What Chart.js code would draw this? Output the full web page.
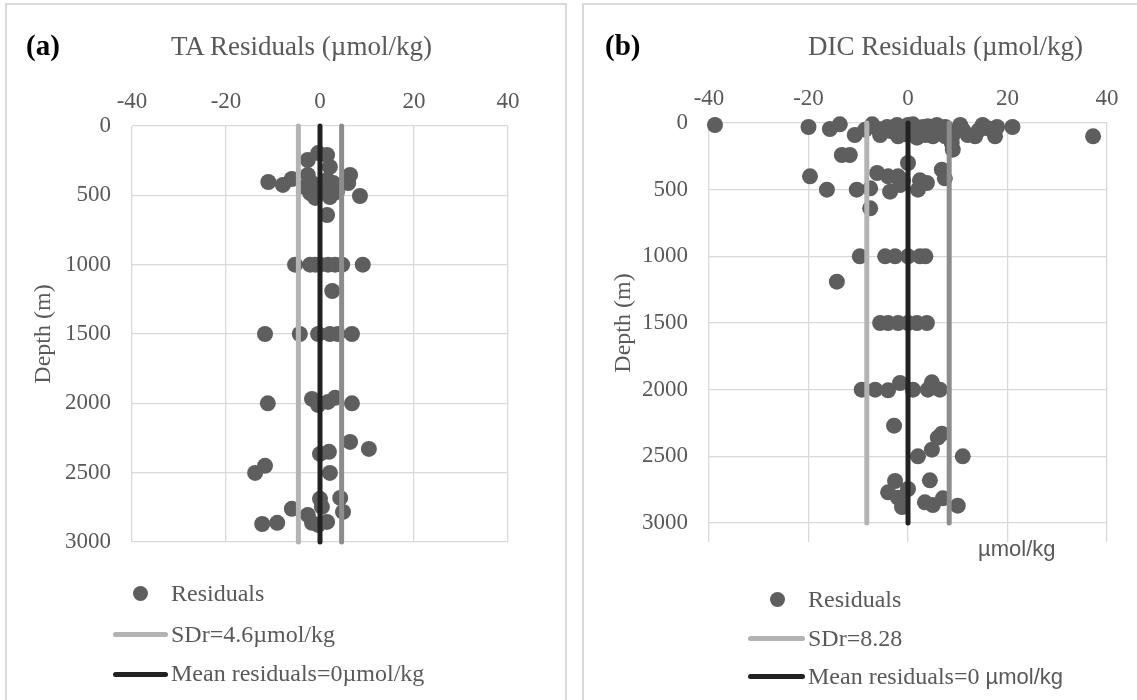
<!DOCTYPE html>
<html>
<head>
<meta charset="utf-8">
<script src="https://cdn.jsdelivr.net/npm/chart.js@4.4.1/dist/chart.umd.min.js"></script>
<style>
body{margin:0;background:#fff;width:1137px;height:700px;overflow:hidden;position:relative;font-family:"Liberation Serif",serif;color:#595959}
.frame{position:absolute;top:3px;height:720px;border:2px solid #d9d9d9;box-sizing:border-box}
canvas{position:absolute;top:0}
.t{position:absolute;white-space:nowrap;line-height:30px;font-size:24px}
.ttl{font-size:27px}
.lab{font-weight:bold;color:#000;font-size:29px}
.dot{position:absolute;width:15px;height:15px;border-radius:50%;background:#5e5e5e}
.ln{position:absolute;height:5px;border-radius:3px}
.sans{font-family:"Liberation Sans",sans-serif;font-size:22px}
</style>
</head>
<body>
<div class="frame" style="left:5px;width:562px"></div>
<div class="frame" style="left:582px;width:560px"></div>
<canvas id="ta" width="570" height="700" style="left:0"></canvas>
<canvas id="dic" width="567" height="700" style="left:570px"></canvas>

<div class="t lab" style="left:26px;top:30px">(a)</div>
<div class="t ttl" style="left:171px;top:31px">TA Residuals (µmol/kg)</div>
<div class="t lab" style="left:605px;top:30px">(b)</div>
<div class="t ttl" style="left:808px;top:31px">DIC Residuals (µmol/kg)</div>
<div class="t sans" style="left:978px;top:534px">µmol/kg</div>

<div class="dot" style="left:133px;top:586px"></div>
<div class="t" style="left:171px;top:578px">Residuals</div>
<div class="ln" style="left:113px;top:632px;width:55px;background:#b3b3b3"></div>
<div class="t" style="left:171px;top:619px">SDr=4.6µmol/kg</div>
<div class="ln" style="left:113px;top:672px;width:55px;background:#222"></div>
<div class="t" style="left:171px;top:658px">Mean residuals=0µmol/kg</div>

<div class="dot" style="left:770px;top:592px"></div>
<div class="t" style="left:808px;top:584px">Residuals</div>
<div class="ln" style="left:748px;top:636px;width:57px;background:#b3b3b3"></div>
<div class="t" style="left:808px;top:623px">SDr=8.28</div>
<div class="ln" style="left:748px;top:674px;width:57px;background:#222"></div>
<div class="t" style="left:808px;top:661px">Mean residuals=0 <span class="sans">µmol/kg</span></div>

<script>
// axis ticks
const xTicks = [-40, -20, 0, 20, 40];
const yTicks = [0, 500, 1000, 1500, 2000, 2500, 3000];

// (a) TA residuals vs depth
const taResid = [-0.4,-2.6,1.5,2.1,-11,-7.9,-6,-2.6,-1.7,-2.1,1.5,2.8,2.1,6.4,6,8.5,1.5,-1,-3.2,0.4,3.6,
  -5.3,-2.1,-1,0,1.7,3.2,4.7,9.1,
  2.6,
  -11.7,-4.3,-0.4,2.1,3.8,6.8,
  -11.1,-1.7,-0.4,1.7,3.2,6.8,
  6.4,10.4,0,1.9,-11.7,-13.8,2.1,
  0,4.3,0.4,-6,4.9,-2.6,-1.7,1.5,-12.3,-9.1,-0.4];
const taDepth = [195,245,209,295,404,425,382,353,411,483,389,411,512,353,411,505,642,519,440,461,476,
  1000,1000,1000,1000,1000,1000,1000,1000,
  1190,
  1500,1500,1500,1500,1500,1500,
  2000,1968,2012,1990,1960,2000,
  2278,2329,2365,2350,2451,2502,2502,
  2689,2682,2747,2761,2783,2805,2862,2855,2870,2862,2877];
const taSD = 4.6;
const taMean = 0;

// (b) DIC residuals vs depth
const dicResid = [-38.8,-20,-15.7,-13.7,-10.7,-7.2,-5.6,-4.2,-2,-2.2,0,1.8,3,5,5.8,9,8.9,10.5,12,13.5,15,17.5,17.9,21,37.2,
  -6,-3.5,-1,1,2.2,4,6.5,7.5,3.5,-0.5,7.5,11,14.2,16,8.8,-8.6,
  -13.3,-11.7,0,-19.7,-6.2,-4,-2,6.8,7.4,2.4,3.8,-1,-16.3,-10.3,-7.6,-3.6,-1.6,2,-7.6,
  -9.7,-4.6,-2.6,0,2.4,3.5,
  -14.3,
  -5.6,-4,-2,0,1.8,3.8,
  -9.3,-6.6,-4,-1.6,1,4,4.8,6.4,
  -2.8,6.8,6,4.8,2,11,
  -2.6,4.4,-4,0,-2,-1.2,3.4,5,7,10];
const dicDepth = [15,30,45,10,90,10,90,30,100,15,15,110,30,100,15,200,100,15,90,100,15,100,30,30,100,
  45,60,45,10,70,25,60,30,90,85,100,50,55,40,150,50,
  240,240,300,400,375,400,400,350,415,430,450,430,500,500,490,515,465,500,640,
  1000,1000,1000,1000,1000,1000,
  1190,
  1500,1500,1500,1500,1500,1500,
  2000,2000,2005,1950,2000,2000,1945,2000,
  2270,2330,2360,2450,2500,2500,
  2685,2680,2770,2745,2810,2880,2845,2865,2815,2870];
const dicSD = 8.28;
const dicMean = 0;

const tickFont = {family: 'Liberation Serif', size: 23};
const gridCol = '#d9d9d9';

function pts(xs, ys) { return xs.map((x, i) => ({x: x, y: ys[i]})); }
function vline(x) { return [{x: x, y: yTicks[0]}, {x: x, y: yTicks[yTicks.length - 1]}]; }

function panel(id, resid, depth, sd, mean, g) {
  const lineDs = (data, col) => ({
    type: 'line', data: data, borderColor: col, borderWidth: 5, pointRadius: 0,
    borderCapStyle: 'round', showLine: true, order: 0, clip: false
  });
  const scales = {
    x: {
      type: 'linear', position: 'top', min: xTicks[0], max: xTicks[xTicks.length - 1],
      afterBuildTicks: s => { s.ticks = xTicks.map(v => ({value: v})); },
      afterFit: s => { s.height = g.xH; },
      grid: {color: gridCol, lineWidth: 1.3, drawTicks: false},
      border: {display: false},
      ticks: {font: tickFont, color: '#595959', padding: 10, maxRotation: 0, autoSkip: false,
        callback: v => String(v)}
    },
    y: {
      type: 'linear', reverse: true, min: yTicks[0], max: yTicks[yTicks.length - 1],
      afterBuildTicks: s => { s.ticks = yTicks.map(v => ({value: v})); },
      afterFit: s => { s.width = g.yW; },
      grid: {color: gridCol, lineWidth: 1.3, drawTicks: false},
      border: {display: false},
      ticks: {font: tickFont, color: '#595959', padding: 21, autoSkip: false,
        callback: v => String(v)},
      title: {display: true, text: 'Depth (m)', color: '#595959',
        font: {family: 'Liberation Serif', size: 24}, padding: {top: g.titleOff, bottom: 0}}
    }
  };
  if (g.ext) {
    scales.x2 = {
      type: 'linear', position: 'bottom', min: xTicks[0], max: xTicks[xTicks.length - 1],
      afterBuildTicks: s => { s.ticks = xTicks.map(v => ({value: v})); },
      afterFit: s => { s.height = g.ext; },
      grid: {color: gridCol, lineWidth: 1.3, drawOnChartArea: false, drawTicks: true, tickLength: g.ext},
      border: {display: false},
      ticks: {display: false}
    };
  }
  new Chart(document.getElementById(id), {
    type: 'scatter',
    data: {
      datasets: [
        lineDs(vline(mean), '#222222'),
        lineDs(vline(-sd), '#b3b3b3'),
        lineDs(vline(sd), '#8c8c8c'),
        {label: 'Residuals', data: pts(resid, depth), pointRadius: 8, pointBorderWidth: 0,
         backgroundColor: '#5e5e5e', borderColor: '#5e5e5e', order: 1, clip: false}
      ]
    },
    options: {
      responsive: false, animation: false,
      layout: {padding: g.pad},
      plugins: {legend: {display: false}, tooltip: {enabled: false}},
      scales: scales
    }
  });
}

panel('ta', taResid, taDepth, taSD, taMean,
  {xH: 126, yW: 132, titleOff: 29, pad: {left: 0, top: 0, right: 62, bottom: 158}});
panel('dic', dicResid, dicDepth, dicSD, dicMean,
  {xH: 123, yW: 139, titleOff: 39, ext: 19, pad: {left: 0, top: 0, right: 30, bottom: 158}});
</script>
</body>
</html>
